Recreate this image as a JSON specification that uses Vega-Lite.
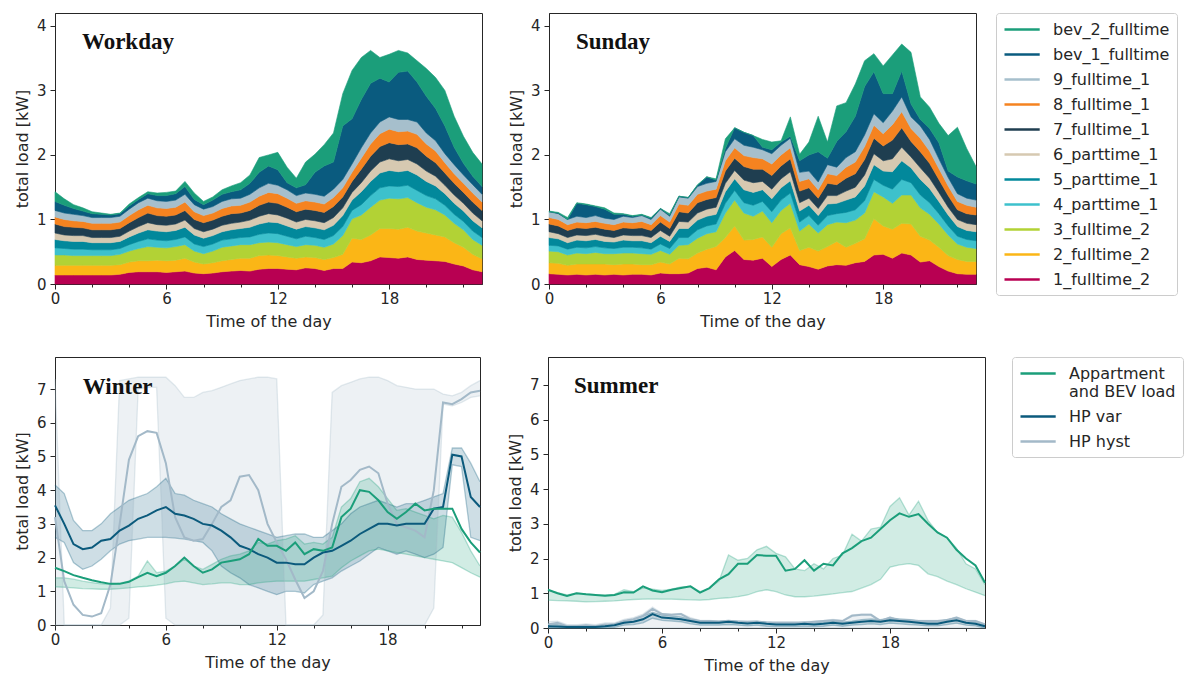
{
  "$schema": "https://vega.github.io/schema/vega-lite/v6.json",
  "padding": {"left": 13, "top": 12, "right": 5, "bottom": 5},
  "config": {
    "font": "DejaVu Sans",
    "view": {"stroke": "#262626", "strokeWidth": 1},
    "axis": {"grid": false, "labelFont": "DejaVu Sans", "labelFontSize": 15, "labelColor": "#262626", "titleFont": "DejaVu Sans", "titleFontSize": 16, "titleFontWeight": "normal", "titleColor": "#262626", "domainColor": "#262626", "tickColor": "#262626", "tickWidth": 1, "labelOverlap": false},
    "axisX": {"labelPadding": 2, "titlePadding": 7, "labelFlush": false, "tickCount": 23},
    "axisY": {"tickSize": 5, "labelPadding": 4, "titlePadding": 6},
    "legend": {"labelFont": "DejaVu Sans", "labelFontSize": 16, "labelColor": "#262626", "symbolType": "M-1,0H3.4", "symbolSize": 256, "symbolStrokeWidth": 2.5, "strokeColor": "#cccccc", "cornerRadius": 3, "padding": 7, "rowPadding": 7, "labelOffset": 31, "orient": "right"}
  },
  "datasets": {
    "workday": [
      {"t":0,"s":"1","v":0.14},{"t":0.5,"s":"1","v":0.14},{"t":1,"s":"1","v":0.14},{"t":1.5,"s":"1","v":0.14},{"t":2,"s":"1","v":0.14},{"t":2.5,"s":"1","v":0.14},{"t":3,"s":"1","v":0.14},{"t":3.5,"s":"1","v":0.15},{"t":4,"s":"1","v":0.18},{"t":4.5,"s":"1","v":0.19},{"t":5,"s":"1","v":0.19},{"t":5.5,"s":"1","v":0.19},{"t":6,"s":"1","v":0.18},{"t":6.5,"s":"1","v":0.19},{"t":7,"s":"1","v":0.2},{"t":7.5,"s":"1","v":0.17},{"t":8,"s":"1","v":0.16},{"t":8.5,"s":"1","v":0.17},{"t":9,"s":"1","v":0.19},{"t":9.5,"s":"1","v":0.2},{"t":10,"s":"1","v":0.21},{"t":10.5,"s":"1","v":0.2},{"t":11,"s":"1","v":0.23},{"t":11.5,"s":"1","v":0.24},{"t":12,"s":"1","v":0.24},{"t":12.5,"s":"1","v":0.23},{"t":13,"s":"1","v":0.22},{"t":13.5,"s":"1","v":0.25},{"t":14,"s":"1","v":0.24},{"t":14.5,"s":"1","v":0.21},{"t":15,"s":"1","v":0.24},{"t":15.5,"s":"1","v":0.24},{"t":16,"s":"1","v":0.34},{"t":16.5,"s":"1","v":0.33},{"t":17,"s":"1","v":0.36},{"t":17.5,"s":"1","v":0.42},{"t":18,"s":"1","v":0.41},{"t":18.5,"s":"1","v":0.4},{"t":19,"s":"1","v":0.42},{"t":19.5,"s":"1","v":0.38},{"t":20,"s":"1","v":0.37},{"t":20.5,"s":"1","v":0.36},{"t":21,"s":"1","v":0.35},{"t":21.5,"s":"1","v":0.31},{"t":22,"s":"1","v":0.28},{"t":22.5,"s":"1","v":0.22},{"t":23,"s":"1","v":0.19},
      {"t":0,"s":"2","v":0.15},{"t":0.5,"s":"2","v":0.15},{"t":1,"s":"2","v":0.15},{"t":1.5,"s":"2","v":0.15},{"t":2,"s":"2","v":0.15},{"t":2.5,"s":"2","v":0.15},{"t":3,"s":"2","v":0.15},{"t":3.5,"s":"2","v":0.15},{"t":4,"s":"2","v":0.16},{"t":4.5,"s":"2","v":0.17},{"t":5,"s":"2","v":0.17},{"t":5.5,"s":"2","v":0.18},{"t":6,"s":"2","v":0.18},{"t":6.5,"s":"2","v":0.18},{"t":7,"s":"2","v":0.2},{"t":7.5,"s":"2","v":0.17},{"t":8,"s":"2","v":0.15},{"t":8.5,"s":"2","v":0.16},{"t":9,"s":"2","v":0.17},{"t":9.5,"s":"2","v":0.18},{"t":10,"s":"2","v":0.19},{"t":10.5,"s":"2","v":0.2},{"t":11,"s":"2","v":0.21},{"t":11.5,"s":"2","v":0.21},{"t":12,"s":"2","v":0.2},{"t":12.5,"s":"2","v":0.19},{"t":13,"s":"2","v":0.18},{"t":13.5,"s":"2","v":0.17},{"t":14,"s":"2","v":0.17},{"t":14.5,"s":"2","v":0.17},{"t":15,"s":"2","v":0.17},{"t":15.5,"s":"2","v":0.22},{"t":16,"s":"2","v":0.37},{"t":16.5,"s":"2","v":0.36},{"t":17,"s":"2","v":0.4},{"t":17.5,"s":"2","v":0.44},{"t":18,"s":"2","v":0.45},{"t":18.5,"s":"2","v":0.45},{"t":19,"s":"2","v":0.46},{"t":19.5,"s":"2","v":0.44},{"t":20,"s":"2","v":0.42},{"t":20.5,"s":"2","v":0.4},{"t":21,"s":"2","v":0.38},{"t":21.5,"s":"2","v":0.33},{"t":22,"s":"2","v":0.29},{"t":22.5,"s":"2","v":0.24},{"t":23,"s":"2","v":0.2},
      {"t":0,"s":"3","v":0.16},{"t":0.5,"s":"3","v":0.16},{"t":1,"s":"3","v":0.15},{"t":1.5,"s":"3","v":0.15},{"t":2,"s":"3","v":0.15},{"t":2.5,"s":"3","v":0.15},{"t":3,"s":"3","v":0.15},{"t":3.5,"s":"3","v":0.16},{"t":4,"s":"3","v":0.17},{"t":4.5,"s":"3","v":0.19},{"t":5,"s":"3","v":0.22},{"t":5.5,"s":"3","v":0.2},{"t":6,"s":"3","v":0.2},{"t":6.5,"s":"3","v":0.21},{"t":7,"s":"3","v":0.21},{"t":7.5,"s":"3","v":0.17},{"t":8,"s":"3","v":0.16},{"t":8.5,"s":"3","v":0.18},{"t":9,"s":"3","v":0.21},{"t":9.5,"s":"3","v":0.21},{"t":10,"s":"3","v":0.21},{"t":10.5,"s":"3","v":0.21},{"t":11,"s":"3","v":0.2},{"t":11.5,"s":"3","v":0.2},{"t":12,"s":"3","v":0.2},{"t":12.5,"s":"3","v":0.19},{"t":13,"s":"3","v":0.18},{"t":13.5,"s":"3","v":0.19},{"t":14,"s":"3","v":0.19},{"t":14.5,"s":"3","v":0.19},{"t":15,"s":"3","v":0.21},{"t":15.5,"s":"3","v":0.29},{"t":16,"s":"3","v":0.3},{"t":16.5,"s":"3","v":0.38},{"t":17,"s":"3","v":0.43},{"t":17.5,"s":"3","v":0.44},{"t":18,"s":"3","v":0.47},{"t":18.5,"s":"3","v":0.47},{"t":19,"s":"3","v":0.46},{"t":19.5,"s":"3","v":0.44},{"t":20,"s":"3","v":0.4},{"t":20.5,"s":"3","v":0.39},{"t":21,"s":"3","v":0.34},{"t":21.5,"s":"3","v":0.3},{"t":22,"s":"3","v":0.27},{"t":22.5,"s":"3","v":0.23},{"t":23,"s":"3","v":0.21},
      {"t":0,"s":"4","v":0.11},{"t":0.5,"s":"4","v":0.1},{"t":1,"s":"4","v":0.1},{"t":1.5,"s":"4","v":0.1},{"t":2,"s":"4","v":0.09},{"t":2.5,"s":"4","v":0.09},{"t":3,"s":"4","v":0.09},{"t":3.5,"s":"4","v":0.09},{"t":4,"s":"4","v":0.1},{"t":4.5,"s":"4","v":0.11},{"t":5,"s":"4","v":0.12},{"t":5.5,"s":"4","v":0.11},{"t":6,"s":"4","v":0.11},{"t":6.5,"s":"4","v":0.11},{"t":7,"s":"4","v":0.12},{"t":7.5,"s":"4","v":0.11},{"t":8,"s":"4","v":0.11},{"t":8.5,"s":"4","v":0.11},{"t":9,"s":"4","v":0.11},{"t":9.5,"s":"4","v":0.11},{"t":10,"s":"4","v":0.11},{"t":10.5,"s":"4","v":0.12},{"t":11,"s":"4","v":0.13},{"t":11.5,"s":"4","v":0.14},{"t":12,"s":"4","v":0.14},{"t":12.5,"s":"4","v":0.13},{"t":13,"s":"4","v":0.12},{"t":13.5,"s":"4","v":0.13},{"t":14,"s":"4","v":0.12},{"t":14.5,"s":"4","v":0.12},{"t":15,"s":"4","v":0.13},{"t":15.5,"s":"4","v":0.14},{"t":16,"s":"4","v":0.13},{"t":16.5,"s":"4","v":0.16},{"t":17,"s":"4","v":0.18},{"t":17.5,"s":"4","v":0.19},{"t":18,"s":"4","v":0.19},{"t":18.5,"s":"4","v":0.19},{"t":19,"s":"4","v":0.19},{"t":19.5,"s":"4","v":0.19},{"t":20,"s":"4","v":0.18},{"t":20.5,"s":"4","v":0.17},{"t":21,"s":"4","v":0.15},{"t":21.5,"s":"4","v":0.14},{"t":22,"s":"4","v":0.13},{"t":22.5,"s":"4","v":0.13},{"t":23,"s":"4","v":0.12},
      {"t":0,"s":"5","v":0.13},{"t":0.5,"s":"5","v":0.12},{"t":1,"s":"5","v":0.12},{"t":1.5,"s":"5","v":0.12},{"t":2,"s":"5","v":0.11},{"t":2.5,"s":"5","v":0.11},{"t":3,"s":"5","v":0.11},{"t":3.5,"s":"5","v":0.11},{"t":4,"s":"5","v":0.12},{"t":4.5,"s":"5","v":0.13},{"t":5,"s":"5","v":0.14},{"t":5.5,"s":"5","v":0.14},{"t":6,"s":"5","v":0.14},{"t":6.5,"s":"5","v":0.14},{"t":7,"s":"5","v":0.15},{"t":7.5,"s":"5","v":0.14},{"t":8,"s":"5","v":0.13},{"t":8.5,"s":"5","v":0.13},{"t":9,"s":"5","v":0.13},{"t":9.5,"s":"5","v":0.14},{"t":10,"s":"5","v":0.14},{"t":10.5,"s":"5","v":0.15},{"t":11,"s":"5","v":0.16},{"t":11.5,"s":"5","v":0.17},{"t":12,"s":"5","v":0.17},{"t":12.5,"s":"5","v":0.16},{"t":13,"s":"5","v":0.15},{"t":13.5,"s":"5","v":0.15},{"t":14,"s":"5","v":0.15},{"t":14.5,"s":"5","v":0.15},{"t":15,"s":"5","v":0.16},{"t":15.5,"s":"5","v":0.17},{"t":16,"s":"5","v":0.16},{"t":16.5,"s":"5","v":0.2},{"t":17,"s":"5","v":0.22},{"t":17.5,"s":"5","v":0.23},{"t":18,"s":"5","v":0.24},{"t":18.5,"s":"5","v":0.23},{"t":19,"s":"5","v":0.23},{"t":19.5,"s":"5","v":0.24},{"t":20,"s":"5","v":0.22},{"t":20.5,"s":"5","v":0.2},{"t":21,"s":"5","v":0.18},{"t":21.5,"s":"5","v":0.17},{"t":22,"s":"5","v":0.16},{"t":22.5,"s":"5","v":0.16},{"t":23,"s":"5","v":0.15},
      {"t":0,"s":"6","v":0.1},{"t":0.5,"s":"6","v":0.09},{"t":1,"s":"6","v":0.09},{"t":1.5,"s":"6","v":0.09},{"t":2,"s":"6","v":0.08},{"t":2.5,"s":"6","v":0.08},{"t":3,"s":"6","v":0.08},{"t":3.5,"s":"6","v":0.08},{"t":4,"s":"6","v":0.09},{"t":4.5,"s":"6","v":0.1},{"t":5,"s":"6","v":0.11},{"t":5.5,"s":"6","v":0.1},{"t":6,"s":"6","v":0.1},{"t":6.5,"s":"6","v":0.1},{"t":7,"s":"6","v":0.11},{"t":7.5,"s":"6","v":0.1},{"t":8,"s":"6","v":0.1},{"t":8.5,"s":"6","v":0.1},{"t":9,"s":"6","v":0.1},{"t":9.5,"s":"6","v":0.1},{"t":10,"s":"6","v":0.1},{"t":10.5,"s":"6","v":0.11},{"t":11,"s":"6","v":0.12},{"t":11.5,"s":"6","v":0.13},{"t":12,"s":"6","v":0.12},{"t":12.5,"s":"6","v":0.12},{"t":13,"s":"6","v":0.11},{"t":13.5,"s":"6","v":0.11},{"t":14,"s":"6","v":0.11},{"t":14.5,"s":"6","v":0.11},{"t":15,"s":"6","v":0.12},{"t":15.5,"s":"6","v":0.12},{"t":16,"s":"6","v":0.12},{"t":16.5,"s":"6","v":0.14},{"t":17,"s":"6","v":0.16},{"t":17.5,"s":"6","v":0.17},{"t":18,"s":"6","v":0.18},{"t":18.5,"s":"6","v":0.17},{"t":19,"s":"6","v":0.17},{"t":19.5,"s":"6","v":0.17},{"t":20,"s":"6","v":0.16},{"t":20.5,"s":"6","v":0.15},{"t":21,"s":"6","v":0.13},{"t":21.5,"s":"6","v":0.13},{"t":22,"s":"6","v":0.12},{"t":22.5,"s":"6","v":0.12},{"t":23,"s":"6","v":0.11},
      {"t":0,"s":"7","v":0.14},{"t":0.5,"s":"7","v":0.13},{"t":1,"s":"7","v":0.13},{"t":1.5,"s":"7","v":0.12},{"t":2,"s":"7","v":0.12},{"t":2.5,"s":"7","v":0.12},{"t":3,"s":"7","v":0.12},{"t":3.5,"s":"7","v":0.12},{"t":4,"s":"7","v":0.13},{"t":4.5,"s":"7","v":0.14},{"t":5,"s":"7","v":0.15},{"t":5.5,"s":"7","v":0.14},{"t":6,"s":"7","v":0.14},{"t":6.5,"s":"7","v":0.14},{"t":7,"s":"7","v":0.15},{"t":7.5,"s":"7","v":0.14},{"t":8,"s":"7","v":0.14},{"t":8.5,"s":"7","v":0.14},{"t":9,"s":"7","v":0.14},{"t":9.5,"s":"7","v":0.15},{"t":10,"s":"7","v":0.14},{"t":10.5,"s":"7","v":0.15},{"t":11,"s":"7","v":0.17},{"t":11.5,"s":"7","v":0.18},{"t":12,"s":"7","v":0.18},{"t":12.5,"s":"7","v":0.17},{"t":13,"s":"7","v":0.16},{"t":13.5,"s":"7","v":0.16},{"t":14,"s":"7","v":0.16},{"t":14.5,"s":"7","v":0.16},{"t":15,"s":"7","v":0.17},{"t":15.5,"s":"7","v":0.17},{"t":16,"s":"7","v":0.17},{"t":16.5,"s":"7","v":0.21},{"t":17,"s":"7","v":0.23},{"t":17.5,"s":"7","v":0.24},{"t":18,"s":"7","v":0.25},{"t":18.5,"s":"7","v":0.25},{"t":19,"s":"7","v":0.24},{"t":19.5,"s":"7","v":0.25},{"t":20,"s":"7","v":0.23},{"t":20.5,"s":"7","v":0.21},{"t":21,"s":"7","v":0.19},{"t":21.5,"s":"7","v":0.18},{"t":22,"s":"7","v":0.17},{"t":22.5,"s":"7","v":0.17},{"t":23,"s":"7","v":0.16},
      {"t":0,"s":"8","v":0.11},{"t":0.5,"s":"8","v":0.11},{"t":1,"s":"8","v":0.1},{"t":1.5,"s":"8","v":0.1},{"t":2,"s":"8","v":0.1},{"t":2.5,"s":"8","v":0.1},{"t":3,"s":"8","v":0.1},{"t":3.5,"s":"8","v":0.1},{"t":4,"s":"8","v":0.11},{"t":4.5,"s":"8","v":0.12},{"t":5,"s":"8","v":0.12},{"t":5.5,"s":"8","v":0.12},{"t":6,"s":"8","v":0.12},{"t":6.5,"s":"8","v":0.12},{"t":7,"s":"8","v":0.13},{"t":7.5,"s":"8","v":0.12},{"t":8,"s":"8","v":0.11},{"t":8.5,"s":"8","v":0.11},{"t":9,"s":"8","v":0.12},{"t":9.5,"s":"8","v":0.12},{"t":10,"s":"8","v":0.12},{"t":10.5,"s":"8","v":0.13},{"t":11,"s":"8","v":0.14},{"t":11.5,"s":"8","v":0.15},{"t":12,"s":"8","v":0.15},{"t":12.5,"s":"8","v":0.14},{"t":13,"s":"8","v":0.13},{"t":13.5,"s":"8","v":0.13},{"t":14,"s":"8","v":0.13},{"t":14.5,"s":"8","v":0.13},{"t":15,"s":"8","v":0.14},{"t":15.5,"s":"8","v":0.14},{"t":16,"s":"8","v":0.14},{"t":16.5,"s":"8","v":0.17},{"t":17,"s":"8","v":0.19},{"t":17.5,"s":"8","v":0.2},{"t":18,"s":"8","v":0.21},{"t":18.5,"s":"8","v":0.2},{"t":19,"s":"8","v":0.2},{"t":19.5,"s":"8","v":0.21},{"t":20,"s":"8","v":0.19},{"t":20.5,"s":"8","v":0.18},{"t":21,"s":"8","v":0.16},{"t":21.5,"s":"8","v":0.15},{"t":22,"s":"8","v":0.14},{"t":22.5,"s":"8","v":0.14},{"t":23,"s":"8","v":0.13},
      {"t":0,"s":"9","v":0.1},{"t":0.5,"s":"9","v":0.1},{"t":1,"s":"9","v":0.1},{"t":1.5,"s":"9","v":0.09},{"t":2,"s":"9","v":0.09},{"t":2.5,"s":"9","v":0.09},{"t":3,"s":"9","v":0.09},{"t":3.5,"s":"9","v":0.09},{"t":4,"s":"9","v":0.1},{"t":4.5,"s":"9","v":0.11},{"t":5,"s":"9","v":0.11},{"t":5.5,"s":"9","v":0.11},{"t":6,"s":"9","v":0.11},{"t":6.5,"s":"9","v":0.11},{"t":7,"s":"9","v":0.12},{"t":7.5,"s":"9","v":0.11},{"t":8,"s":"9","v":0.1},{"t":8.5,"s":"9","v":0.1},{"t":9,"s":"9","v":0.11},{"t":9.5,"s":"9","v":0.11},{"t":10,"s":"9","v":0.11},{"t":10.5,"s":"9","v":0.12},{"t":11,"s":"9","v":0.13},{"t":11.5,"s":"9","v":0.14},{"t":12,"s":"9","v":0.13},{"t":12.5,"s":"9","v":0.13},{"t":13,"s":"9","v":0.12},{"t":13.5,"s":"9","v":0.12},{"t":14,"s":"9","v":0.12},{"t":14.5,"s":"9","v":0.12},{"t":15,"s":"9","v":0.13},{"t":15.5,"s":"9","v":0.13},{"t":16,"s":"9","v":0.13},{"t":16.5,"s":"9","v":0.16},{"t":17,"s":"9","v":0.17},{"t":17.5,"s":"9","v":0.18},{"t":18,"s":"9","v":0.19},{"t":18.5,"s":"9","v":0.19},{"t":19,"s":"9","v":0.18},{"t":19.5,"s":"9","v":0.19},{"t":20,"s":"9","v":0.17},{"t":20.5,"s":"9","v":0.16},{"t":21,"s":"9","v":0.14},{"t":21.5,"s":"9","v":0.14},{"t":22,"s":"9","v":0.13},{"t":22.5,"s":"9","v":0.13},{"t":23,"s":"9","v":0.12},
      {"t":0,"s":"b1","v":0.14},{"t":0.5,"s":"b1","v":0.12},{"t":1,"s":"b1","v":0.09},{"t":1.5,"s":"b1","v":0.07},{"t":2,"s":"b1","v":0.06},{"t":2.5,"s":"b1","v":0.05},{"t":3,"s":"b1","v":0.04},{"t":3.5,"s":"b1","v":0.04},{"t":4,"s":"b1","v":0.05},{"t":4.5,"s":"b1","v":0.05},{"t":5,"s":"b1","v":0.07},{"t":5.5,"s":"b1","v":0.08},{"t":6,"s":"b1","v":0.09},{"t":6.5,"s":"b1","v":0.1},{"t":7,"s":"b1","v":0.12},{"t":7.5,"s":"b1","v":0.08},{"t":8,"s":"b1","v":0.07},{"t":8.5,"s":"b1","v":0.1},{"t":9,"s":"b1","v":0.11},{"t":9.5,"s":"b1","v":0.11},{"t":10,"s":"b1","v":0.13},{"t":10.5,"s":"b1","v":0.17},{"t":11,"s":"b1","v":0.24},{"t":11.5,"s":"b1","v":0.27},{"t":12,"s":"b1","v":0.24},{"t":12.5,"s":"b1","v":0.11},{"t":13,"s":"b1","v":0.12},{"t":13.5,"s":"b1","v":0.13},{"t":14,"s":"b1","v":0.34},{"t":14.5,"s":"b1","v":0.47},{"t":15,"s":"b1","v":0.42},{"t":15.5,"s":"b1","v":0.83},{"t":16,"s":"b1","v":0.7},{"t":16.5,"s":"b1","v":0.75},{"t":17,"s":"b1","v":0.77},{"t":17.5,"s":"b1","v":0.68},{"t":18,"s":"b1","v":0.54},{"t":18.5,"s":"b1","v":0.73},{"t":19,"s":"b1","v":0.75},{"t":19.5,"s":"b1","v":0.62},{"t":20,"s":"b1","v":0.57},{"t":20.5,"s":"b1","v":0.5},{"t":21,"s":"b1","v":0.43},{"t":21.5,"s":"b1","v":0.27},{"t":22,"s":"b1","v":0.18},{"t":22.5,"s":"b1","v":0.13},{"t":23,"s":"b1","v":0.12},
      {"t":0,"s":"b2","v":0.15},{"t":0.5,"s":"b2","v":0.1},{"t":1,"s":"b2","v":0.06},{"t":1.5,"s":"b2","v":0.05},{"t":2,"s":"b2","v":0.03},{"t":2.5,"s":"b2","v":0.02},{"t":3,"s":"b2","v":0.01},{"t":3.5,"s":"b2","v":0.01},{"t":4,"s":"b2","v":0.03},{"t":4.5,"s":"b2","v":0.03},{"t":5,"s":"b2","v":0.03},{"t":5.5,"s":"b2","v":0.04},{"t":6,"s":"b2","v":0.05},{"t":6.5,"s":"b2","v":0.04},{"t":7,"s":"b2","v":0.08},{"t":7.5,"s":"b2","v":0.1},{"t":8,"s":"b2","v":0.05},{"t":8.5,"s":"b2","v":0.05},{"t":9,"s":"b2","v":0.07},{"t":9.5,"s":"b2","v":0.09},{"t":10,"s":"b2","v":0.11},{"t":10.5,"s":"b2","v":0.13},{"t":11,"s":"b2","v":0.23},{"t":11.5,"s":"b2","v":0.17},{"t":12,"s":"b2","v":0.27},{"t":12.5,"s":"b2","v":0.24},{"t":13,"s":"b2","v":0.15},{"t":13.5,"s":"b2","v":0.35},{"t":14,"s":"b2","v":0.28},{"t":14.5,"s":"b2","v":0.33},{"t":15,"s":"b2","v":0.45},{"t":15.5,"s":"b2","v":0.5},{"t":16,"s":"b2","v":0.75},{"t":16.5,"s":"b2","v":0.65},{"t":17,"s":"b2","v":0.51},{"t":17.5,"s":"b2","v":0.32},{"t":18,"s":"b2","v":0.43},{"t":18.5,"s":"b2","v":0.34},{"t":19,"s":"b2","v":0.28},{"t":19.5,"s":"b2","v":0.33},{"t":20,"s":"b2","v":0.43},{"t":20.5,"s":"b2","v":0.48},{"t":21,"s":"b2","v":0.55},{"t":21.5,"s":"b2","v":0.48},{"t":22,"s":"b2","v":0.42},{"t":22.5,"s":"b2","v":0.37},{"t":23,"s":"b2","v":0.35}
    ],
    "sunday": [
      {"t":0,"s":"1","v":0.16},{"t":0.5,"s":"1","v":0.15},{"t":1,"s":"1","v":0.14},{"t":1.5,"s":"1","v":0.15},{"t":2,"s":"1","v":0.14},{"t":2.5,"s":"1","v":0.15},{"t":3,"s":"1","v":0.14},{"t":3.5,"s":"1","v":0.15},{"t":4,"s":"1","v":0.14},{"t":4.5,"s":"1","v":0.15},{"t":5,"s":"1","v":0.15},{"t":5.5,"s":"1","v":0.14},{"t":6,"s":"1","v":0.17},{"t":6.5,"s":"1","v":0.16},{"t":7,"s":"1","v":0.16},{"t":7.5,"s":"1","v":0.17},{"t":8,"s":"1","v":0.24},{"t":8.5,"s":"1","v":0.26},{"t":9,"s":"1","v":0.22},{"t":9.5,"s":"1","v":0.42},{"t":10,"s":"1","v":0.52},{"t":10.5,"s":"1","v":0.38},{"t":11,"s":"1","v":0.37},{"t":11.5,"s":"1","v":0.4},{"t":12,"s":"1","v":0.27},{"t":12.5,"s":"1","v":0.38},{"t":13,"s":"1","v":0.45},{"t":13.5,"s":"1","v":0.3},{"t":14,"s":"1","v":0.27},{"t":14.5,"s":"1","v":0.23},{"t":15,"s":"1","v":0.28},{"t":15.5,"s":"1","v":0.3},{"t":16,"s":"1","v":0.29},{"t":16.5,"s":"1","v":0.33},{"t":17,"s":"1","v":0.35},{"t":17.5,"s":"1","v":0.45},{"t":18,"s":"1","v":0.46},{"t":18.5,"s":"1","v":0.4},{"t":19,"s":"1","v":0.48},{"t":19.5,"s":"1","v":0.45},{"t":20,"s":"1","v":0.34},{"t":20.5,"s":"1","v":0.36},{"t":21,"s":"1","v":0.27},{"t":21.5,"s":"1","v":0.2},{"t":22,"s":"1","v":0.16},{"t":22.5,"s":"1","v":0.15},{"t":23,"s":"1","v":0.15},
      {"t":0,"s":"2","v":0.17},{"t":0.5,"s":"2","v":0.17},{"t":1,"s":"2","v":0.15},{"t":1.5,"s":"2","v":0.16},{"t":2,"s":"2","v":0.17},{"t":2.5,"s":"2","v":0.16},{"t":3,"s":"2","v":0.17},{"t":3.5,"s":"2","v":0.15},{"t":4,"s":"2","v":0.17},{"t":4.5,"s":"2","v":0.16},{"t":5,"s":"2","v":0.15},{"t":5.5,"s":"2","v":0.16},{"t":6,"s":"2","v":0.17},{"t":6.5,"s":"2","v":0.15},{"t":7,"s":"2","v":0.24},{"t":7.5,"s":"2","v":0.22},{"t":8,"s":"2","v":0.24},{"t":8.5,"s":"2","v":0.28},{"t":9,"s":"2","v":0.36},{"t":9.5,"s":"2","v":0.3},{"t":10,"s":"2","v":0.38},{"t":10.5,"s":"2","v":0.3},{"t":11,"s":"2","v":0.32},{"t":11.5,"s":"2","v":0.33},{"t":12,"s":"2","v":0.3},{"t":12.5,"s":"2","v":0.4},{"t":13,"s":"2","v":0.42},{"t":13.5,"s":"2","v":0.22},{"t":14,"s":"2","v":0.3},{"t":14.5,"s":"2","v":0.28},{"t":15,"s":"2","v":0.3},{"t":15.5,"s":"2","v":0.36},{"t":16,"s":"2","v":0.28},{"t":16.5,"s":"2","v":0.3},{"t":17,"s":"2","v":0.35},{"t":17.5,"s":"2","v":0.56},{"t":18,"s":"2","v":0.44},{"t":18.5,"s":"2","v":0.45},{"t":19,"s":"2","v":0.46},{"t":19.5,"s":"2","v":0.48},{"t":20,"s":"2","v":0.4},{"t":20.5,"s":"2","v":0.32},{"t":21,"s":"2","v":0.3},{"t":21.5,"s":"2","v":0.24},{"t":22,"s":"2","v":0.22},{"t":22.5,"s":"2","v":0.2},{"t":23,"s":"2","v":0.2},
      {"t":0,"s":"3","v":0.18},{"t":0.5,"s":"3","v":0.18},{"t":1,"s":"3","v":0.16},{"t":1.5,"s":"3","v":0.17},{"t":2,"s":"3","v":0.16},{"t":2.5,"s":"3","v":0.18},{"t":3,"s":"3","v":0.16},{"t":3.5,"s":"3","v":0.17},{"t":4,"s":"3","v":0.17},{"t":4.5,"s":"3","v":0.17},{"t":5,"s":"3","v":0.17},{"t":5.5,"s":"3","v":0.16},{"t":6,"s":"3","v":0.18},{"t":6.5,"s":"3","v":0.15},{"t":7,"s":"3","v":0.2},{"t":7.5,"s":"3","v":0.22},{"t":8,"s":"3","v":0.23},{"t":8.5,"s":"3","v":0.24},{"t":9,"s":"3","v":0.23},{"t":9.5,"s":"3","v":0.38},{"t":10,"s":"3","v":0.4},{"t":10.5,"s":"3","v":0.42},{"t":11,"s":"3","v":0.36},{"t":11.5,"s":"3","v":0.4},{"t":12,"s":"3","v":0.38},{"t":12.5,"s":"3","v":0.36},{"t":13,"s":"3","v":0.38},{"t":13.5,"s":"3","v":0.3},{"t":14,"s":"3","v":0.36},{"t":14.5,"s":"3","v":0.28},{"t":15,"s":"3","v":0.34},{"t":15.5,"s":"3","v":0.3},{"t":16,"s":"3","v":0.38},{"t":16.5,"s":"3","v":0.36},{"t":17,"s":"3","v":0.4},{"t":17.5,"s":"3","v":0.42},{"t":18,"s":"3","v":0.45},{"t":18.5,"s":"3","v":0.4},{"t":19,"s":"3","v":0.44},{"t":19.5,"s":"3","v":0.45},{"t":20,"s":"3","v":0.44},{"t":20.5,"s":"3","v":0.4},{"t":21,"s":"3","v":0.36},{"t":21.5,"s":"3","v":0.32},{"t":22,"s":"3","v":0.24},{"t":22.5,"s":"3","v":0.22},{"t":23,"s":"3","v":0.2},
      {"t":0,"s":"4","v":0.09},{"t":0.5,"s":"4","v":0.09},{"t":1,"s":"4","v":0.09},{"t":1.5,"s":"4","v":0.09},{"t":2,"s":"4","v":0.09},{"t":2.5,"s":"4","v":0.09},{"t":3,"s":"4","v":0.09},{"t":3.5,"s":"4","v":0.08},{"t":4,"s":"4","v":0.09},{"t":4.5,"s":"4","v":0.09},{"t":5,"s":"4","v":0.09},{"t":5.5,"s":"4","v":0.08},{"t":6,"s":"4","v":0.1},{"t":6.5,"s":"4","v":0.09},{"t":7,"s":"4","v":0.12},{"t":7.5,"s":"4","v":0.11},{"t":8,"s":"4","v":0.13},{"t":8.5,"s":"4","v":0.12},{"t":9,"s":"4","v":0.12},{"t":9.5,"s":"4","v":0.15},{"t":10,"s":"4","v":0.15},{"t":10.5,"s":"4","v":0.16},{"t":11,"s":"4","v":0.17},{"t":11.5,"s":"4","v":0.15},{"t":12,"s":"4","v":0.17},{"t":12.5,"s":"4","v":0.16},{"t":13,"s":"4","v":0.16},{"t":13.5,"s":"4","v":0.14},{"t":14,"s":"4","v":0.13},{"t":14.5,"s":"4","v":0.12},{"t":15,"s":"4","v":0.14},{"t":15.5,"s":"4","v":0.13},{"t":16,"s":"4","v":0.16},{"t":16.5,"s":"4","v":0.16},{"t":17,"s":"4","v":0.19},{"t":17.5,"s":"4","v":0.19},{"t":18,"s":"4","v":0.18},{"t":18.5,"s":"4","v":0.22},{"t":19,"s":"4","v":0.24},{"t":19.5,"s":"4","v":0.19},{"t":20,"s":"4","v":0.2},{"t":20.5,"s":"4","v":0.18},{"t":21,"s":"4","v":0.16},{"t":21.5,"s":"4","v":0.14},{"t":22,"s":"4","v":0.12},{"t":22.5,"s":"4","v":0.12},{"t":23,"s":"4","v":0.12},
      {"t":0,"s":"5","v":0.12},{"t":0.5,"s":"5","v":0.11},{"t":1,"s":"5","v":0.1},{"t":1.5,"s":"5","v":0.11},{"t":2,"s":"5","v":0.11},{"t":2.5,"s":"5","v":0.11},{"t":3,"s":"5","v":0.1},{"t":3.5,"s":"5","v":0.1},{"t":4,"s":"5","v":0.11},{"t":4.5,"s":"5","v":0.1},{"t":5,"s":"5","v":0.11},{"t":5.5,"s":"5","v":0.1},{"t":6,"s":"5","v":0.12},{"t":6.5,"s":"5","v":0.11},{"t":7,"s":"5","v":0.14},{"t":7.5,"s":"5","v":0.14},{"t":8,"s":"5","v":0.15},{"t":8.5,"s":"5","v":0.15},{"t":9,"s":"5","v":0.15},{"t":9.5,"s":"5","v":0.18},{"t":10,"s":"5","v":0.18},{"t":10.5,"s":"5","v":0.2},{"t":11,"s":"5","v":0.2},{"t":11.5,"s":"5","v":0.18},{"t":12,"s":"5","v":0.2},{"t":12.5,"s":"5","v":0.19},{"t":13,"s":"5","v":0.19},{"t":13.5,"s":"5","v":0.17},{"t":14,"s":"5","v":0.16},{"t":14.5,"s":"5","v":0.15},{"t":15,"s":"5","v":0.18},{"t":15.5,"s":"5","v":0.16},{"t":16,"s":"5","v":0.19},{"t":16.5,"s":"5","v":0.2},{"t":17,"s":"5","v":0.23},{"t":17.5,"s":"5","v":0.23},{"t":18,"s":"5","v":0.22},{"t":18.5,"s":"5","v":0.27},{"t":19,"s":"5","v":0.29},{"t":19.5,"s":"5","v":0.23},{"t":20,"s":"5","v":0.24},{"t":20.5,"s":"5","v":0.22},{"t":21,"s":"5","v":0.19},{"t":21.5,"s":"5","v":0.17},{"t":22,"s":"5","v":0.15},{"t":22.5,"s":"5","v":0.14},{"t":23,"s":"5","v":0.14},
      {"t":0,"s":"6","v":0.09},{"t":0.5,"s":"6","v":0.08},{"t":1,"s":"6","v":0.08},{"t":1.5,"s":"6","v":0.08},{"t":2,"s":"6","v":0.08},{"t":2.5,"s":"6","v":0.08},{"t":3,"s":"6","v":0.08},{"t":3.5,"s":"6","v":0.07},{"t":4,"s":"6","v":0.08},{"t":4.5,"s":"6","v":0.08},{"t":5,"s":"6","v":0.08},{"t":5.5,"s":"6","v":0.08},{"t":6,"s":"6","v":0.09},{"t":6.5,"s":"6","v":0.08},{"t":7,"s":"6","v":0.11},{"t":7.5,"s":"6","v":0.1},{"t":8,"s":"6","v":0.11},{"t":8.5,"s":"6","v":0.11},{"t":9,"s":"6","v":0.11},{"t":9.5,"s":"6","v":0.13},{"t":10,"s":"6","v":0.13},{"t":10.5,"s":"6","v":0.15},{"t":11,"s":"6","v":0.15},{"t":11.5,"s":"6","v":0.13},{"t":12,"s":"6","v":0.15},{"t":12.5,"s":"6","v":0.14},{"t":13,"s":"6","v":0.14},{"t":13.5,"s":"6","v":0.13},{"t":14,"s":"6","v":0.11},{"t":14.5,"s":"6","v":0.11},{"t":15,"s":"6","v":0.13},{"t":15.5,"s":"6","v":0.12},{"t":16,"s":"6","v":0.14},{"t":16.5,"s":"6","v":0.15},{"t":17,"s":"6","v":0.17},{"t":17.5,"s":"6","v":0.17},{"t":18,"s":"6","v":0.16},{"t":18.5,"s":"6","v":0.2},{"t":19,"s":"6","v":0.21},{"t":19.5,"s":"6","v":0.17},{"t":20,"s":"6","v":0.18},{"t":20.5,"s":"6","v":0.16},{"t":21,"s":"6","v":0.14},{"t":21.5,"s":"6","v":0.12},{"t":22,"s":"6","v":0.11},{"t":22.5,"s":"6","v":0.11},{"t":23,"s":"6","v":0.11},
      {"t":0,"s":"7","v":0.12},{"t":0.5,"s":"7","v":0.12},{"t":1,"s":"7","v":0.11},{"t":1.5,"s":"7","v":0.11},{"t":2,"s":"7","v":0.11},{"t":2.5,"s":"7","v":0.11},{"t":3,"s":"7","v":0.11},{"t":3.5,"s":"7","v":0.11},{"t":4,"s":"7","v":0.11},{"t":4.5,"s":"7","v":0.11},{"t":5,"s":"7","v":0.12},{"t":5.5,"s":"7","v":0.11},{"t":6,"s":"7","v":0.13},{"t":6.5,"s":"7","v":0.12},{"t":7,"s":"7","v":0.15},{"t":7.5,"s":"7","v":0.14},{"t":8,"s":"7","v":0.16},{"t":8.5,"s":"7","v":0.15},{"t":9,"s":"7","v":0.15},{"t":9.5,"s":"7","v":0.19},{"t":10,"s":"7","v":0.19},{"t":10.5,"s":"7","v":0.21},{"t":11,"s":"7","v":0.21},{"t":11.5,"s":"7","v":0.19},{"t":12,"s":"7","v":0.21},{"t":12.5,"s":"7","v":0.2},{"t":13,"s":"7","v":0.2},{"t":13.5,"s":"7","v":0.18},{"t":14,"s":"7","v":0.16},{"t":14.5,"s":"7","v":0.16},{"t":15,"s":"7","v":0.19},{"t":15.5,"s":"7","v":0.17},{"t":16,"s":"7","v":0.2},{"t":16.5,"s":"7","v":0.21},{"t":17,"s":"7","v":0.24},{"t":17.5,"s":"7","v":0.24},{"t":18,"s":"7","v":0.23},{"t":18.5,"s":"7","v":0.29},{"t":19,"s":"7","v":0.3},{"t":19.5,"s":"7","v":0.24},{"t":20,"s":"7","v":0.25},{"t":20.5,"s":"7","v":0.23},{"t":21,"s":"7","v":0.2},{"t":21.5,"s":"7","v":0.18},{"t":22,"s":"7","v":0.15},{"t":22.5,"s":"7","v":0.15},{"t":23,"s":"7","v":0.15},
      {"t":0,"s":"8","v":0.1},{"t":0.5,"s":"8","v":0.1},{"t":1,"s":"8","v":0.09},{"t":1.5,"s":"8","v":0.09},{"t":2,"s":"8","v":0.09},{"t":2.5,"s":"8","v":0.09},{"t":3,"s":"8","v":0.09},{"t":3.5,"s":"8","v":0.09},{"t":4,"s":"8","v":0.09},{"t":4.5,"s":"8","v":0.09},{"t":5,"s":"8","v":0.1},{"t":5.5,"s":"8","v":0.09},{"t":6,"s":"8","v":0.1},{"t":6.5,"s":"8","v":0.1},{"t":7,"s":"8","v":0.12},{"t":7.5,"s":"8","v":0.12},{"t":8,"s":"8","v":0.13},{"t":8.5,"s":"8","v":0.13},{"t":9,"s":"8","v":0.13},{"t":9.5,"s":"8","v":0.16},{"t":10,"s":"8","v":0.16},{"t":10.5,"s":"8","v":0.17},{"t":11,"s":"8","v":0.18},{"t":11.5,"s":"8","v":0.16},{"t":12,"s":"8","v":0.18},{"t":12.5,"s":"8","v":0.17},{"t":13,"s":"8","v":0.17},{"t":13.5,"s":"8","v":0.15},{"t":14,"s":"8","v":0.14},{"t":14.5,"s":"8","v":0.13},{"t":15,"s":"8","v":0.15},{"t":15.5,"s":"8","v":0.14},{"t":16,"s":"8","v":0.17},{"t":16.5,"s":"8","v":0.18},{"t":17,"s":"8","v":0.2},{"t":17.5,"s":"8","v":0.2},{"t":18,"s":"8","v":0.19},{"t":18.5,"s":"8","v":0.24},{"t":19,"s":"8","v":0.25},{"t":19.5,"s":"8","v":0.2},{"t":20,"s":"8","v":0.21},{"t":20.5,"s":"8","v":0.19},{"t":21,"s":"8","v":0.17},{"t":21.5,"s":"8","v":0.15},{"t":22,"s":"8","v":0.13},{"t":22.5,"s":"8","v":0.13},{"t":23,"s":"8","v":0.12},
      {"t":0,"s":"9","v":0.09},{"t":0.5,"s":"9","v":0.09},{"t":1,"s":"9","v":0.08},{"t":1.5,"s":"9","v":0.09},{"t":2,"s":"9","v":0.08},{"t":2.5,"s":"9","v":0.09},{"t":3,"s":"9","v":0.08},{"t":3.5,"s":"9","v":0.08},{"t":4,"s":"9","v":0.09},{"t":4.5,"s":"9","v":0.08},{"t":5,"s":"9","v":0.09},{"t":5.5,"s":"9","v":0.08},{"t":6,"s":"9","v":0.1},{"t":6.5,"s":"9","v":0.09},{"t":7,"s":"9","v":0.11},{"t":7.5,"s":"9","v":0.11},{"t":8,"s":"9","v":0.12},{"t":8.5,"s":"9","v":0.12},{"t":9,"s":"9","v":0.12},{"t":9.5,"s":"9","v":0.14},{"t":10,"s":"9","v":0.14},{"t":10.5,"s":"9","v":0.16},{"t":11,"s":"9","v":0.16},{"t":11.5,"s":"9","v":0.14},{"t":12,"s":"9","v":0.16},{"t":12.5,"s":"9","v":0.15},{"t":13,"s":"9","v":0.15},{"t":13.5,"s":"9","v":0.14},{"t":14,"s":"9","v":0.12},{"t":14.5,"s":"9","v":0.12},{"t":15,"s":"9","v":0.14},{"t":15.5,"s":"9","v":0.13},{"t":16,"s":"9","v":0.15},{"t":16.5,"s":"9","v":0.16},{"t":17,"s":"9","v":0.18},{"t":17.5,"s":"9","v":0.18},{"t":18,"s":"9","v":0.17},{"t":18.5,"s":"9","v":0.21},{"t":19,"s":"9","v":0.23},{"t":19.5,"s":"9","v":0.18},{"t":20,"s":"9","v":0.19},{"t":20.5,"s":"9","v":0.18},{"t":21,"s":"9","v":0.15},{"t":21.5,"s":"9","v":0.13},{"t":22,"s":"9","v":0.12},{"t":22.5,"s":"9","v":0.11},{"t":23,"s":"9","v":0.11},
      {"t":0,"s":"b1","v":0},{"t":0.5,"s":"b1","v":0.01},{"t":1,"s":"b1","v":0},{"t":1.5,"s":"b1","v":0.2},{"t":2,"s":"b1","v":0.2},{"t":2.5,"s":"b1","v":0.14},{"t":3,"s":"b1","v":0.14},{"t":3.5,"s":"b1","v":0.08},{"t":4,"s":"b1","v":0.03},{"t":4.5,"s":"b1","v":0.02},{"t":5,"s":"b1","v":0.01},{"t":5.5,"s":"b1","v":0.02},{"t":6,"s":"b1","v":0.01},{"t":6.5,"s":"b1","v":0.02},{"t":7,"s":"b1","v":0.01},{"t":7.5,"s":"b1","v":0.01},{"t":8,"s":"b1","v":0.02},{"t":8.5,"s":"b1","v":0.1},{"t":9,"s":"b1","v":0.02},{"t":9.5,"s":"b1","v":0.05},{"t":10,"s":"b1","v":0.17},{"t":10.5,"s":"b1","v":0.2},{"t":11,"s":"b1","v":0.18},{"t":11.5,"s":"b1","v":0.04},{"t":12,"s":"b1","v":0.06},{"t":12.5,"s":"b1","v":0.05},{"t":13,"s":"b1","v":0.03},{"t":13.5,"s":"b1","v":0.18},{"t":14,"s":"b1","v":0.25},{"t":14.5,"s":"b1","v":0.47},{"t":15,"s":"b1","v":0.1},{"t":15.5,"s":"b1","v":0.4},{"t":16,"s":"b1","v":0.4},{"t":16.5,"s":"b1","v":0.55},{"t":17,"s":"b1","v":0.75},{"t":17.5,"s":"b1","v":0.65},{"t":18,"s":"b1","v":0.45},{"t":18.5,"s":"b1","v":0.27},{"t":19,"s":"b1","v":0.4},{"t":19.5,"s":"b1","v":0.2},{"t":20,"s":"b1","v":0.1},{"t":20.5,"s":"b1","v":0.17},{"t":21,"s":"b1","v":0.25},{"t":21.5,"s":"b1","v":0.1},{"t":22,"s":"b1","v":0.26},{"t":22.5,"s":"b1","v":0.27},{"t":23,"s":"b1","v":0.25},
      {"t":0,"s":"b2","v":0.01},{"t":0.5,"s":"b2","v":0.01},{"t":1,"s":"b2","v":0.03},{"t":1.5,"s":"b2","v":0.01},{"t":2,"s":"b2","v":0.01},{"t":2.5,"s":"b2","v":0.01},{"t":3,"s":"b2","v":0.02},{"t":3.5,"s":"b2","v":0.02},{"t":4,"s":"b2","v":0.01},{"t":4.5,"s":"b2","v":0.01},{"t":5,"s":"b2","v":0.01},{"t":5.5,"s":"b2","v":0.01},{"t":6,"s":"b2","v":0},{"t":6.5,"s":"b2","v":0.02},{"t":7,"s":"b2","v":0},{"t":7.5,"s":"b2","v":0},{"t":8,"s":"b2","v":0.01},{"t":8.5,"s":"b2","v":0},{"t":9,"s":"b2","v":0.02},{"t":9.5,"s":"b2","v":0.15},{"t":10,"s":"b2","v":0},{"t":10.5,"s":"b2","v":0},{"t":11,"s":"b2","v":0},{"t":11.5,"s":"b2","v":0.12},{"t":12,"s":"b2","v":0.12},{"t":12.5,"s":"b2","v":0.02},{"t":13,"s":"b2","v":0.3},{"t":13.5,"s":"b2","v":0.1},{"t":14,"s":"b2","v":0.2},{"t":14.5,"s":"b2","v":0.55},{"t":15,"s":"b2","v":0.25},{"t":15.5,"s":"b2","v":0.55},{"t":16,"s":"b2","v":0.45},{"t":16.5,"s":"b2","v":0.5},{"t":17,"s":"b2","v":0.4},{"t":17.5,"s":"b2","v":0.28},{"t":18,"s":"b2","v":0.43},{"t":18.5,"s":"b2","v":0.6},{"t":19,"s":"b2","v":0.42},{"t":19.5,"s":"b2","v":0.8},{"t":20,"s":"b2","v":0.35},{"t":20.5,"s":"b2","v":0.33},{"t":21,"s":"b2","v":0.3},{"t":21.5,"s":"b2","v":0.55},{"t":22,"s":"b2","v":0.77},{"t":22.5,"s":"b2","v":0.5},{"t":23,"s":"b2","v":0.27}
    ],
    "winter": [
      {"t":0,"s":"hyst","m":3.2,"lo":0,"hi":7.3},{"t":0.5,"s":"hyst","m":1.3,"lo":0,"hi":0},{"t":1,"s":"hyst","m":0.6,"lo":0,"hi":0},{"t":1.5,"s":"hyst","m":0.3,"lo":0,"hi":0},{"t":2,"s":"hyst","m":0.25,"lo":0,"hi":0},{"t":2.5,"s":"hyst","m":0.35,"lo":0,"hi":0},{"t":3,"s":"hyst","m":1.2,"lo":0,"hi":0.5},{"t":3.5,"s":"hyst","m":3.0,"lo":0,"hi":7.25},{"t":4,"s":"hyst","m":4.9,"lo":0.2,"hi":7.3},{"t":4.5,"s":"hyst","m":5.6,"lo":7.0,"hi":7.35},{"t":5,"s":"hyst","m":5.75,"lo":7.05,"hi":7.35},{"t":5.5,"s":"hyst","m":5.7,"lo":7.05,"hi":7.35},{"t":6,"s":"hyst","m":4.8,"lo":0.2,"hi":7.35},{"t":6.5,"s":"hyst","m":3.2,"lo":0,"hi":7.1},{"t":7,"s":"hyst","m":2.6,"lo":0,"hi":6.75},{"t":7.5,"s":"hyst","m":2.5,"lo":0,"hi":6.75},{"t":8,"s":"hyst","m":2.55,"lo":0,"hi":6.9},{"t":8.5,"s":"hyst","m":3.0,"lo":0,"hi":6.95},{"t":9,"s":"hyst","m":3.5,"lo":0,"hi":7.05},{"t":9.5,"s":"hyst","m":3.7,"lo":0,"hi":7.15},{"t":10,"s":"hyst","m":4.4,"lo":0,"hi":7.25},{"t":10.5,"s":"hyst","m":4.45,"lo":0,"hi":7.3},{"t":11,"s":"hyst","m":4.0,"lo":0,"hi":7.35},{"t":11.5,"s":"hyst","m":3.0,"lo":0,"hi":7.35},{"t":12,"s":"hyst","m":2.45,"lo":0,"hi":7.3},{"t":12.5,"s":"hyst","m":1.95,"lo":0,"hi":0},{"t":13,"s":"hyst","m":1.35,"lo":0,"hi":0},{"t":13.5,"s":"hyst","m":0.8,"lo":0,"hi":0},{"t":14,"s":"hyst","m":1.0,"lo":0,"hi":0},{"t":14.5,"s":"hyst","m":1.6,"lo":0,"hi":0.3},{"t":15,"s":"hyst","m":3.0,"lo":0,"hi":6.9},{"t":15.5,"s":"hyst","m":4.1,"lo":0,"hi":7.1},{"t":16,"s":"hyst","m":4.3,"lo":0,"hi":7.2},{"t":16.5,"s":"hyst","m":4.6,"lo":0,"hi":7.3},{"t":17,"s":"hyst","m":4.7,"lo":0,"hi":7.35},{"t":17.5,"s":"hyst","m":4.5,"lo":0,"hi":7.35},{"t":18,"s":"hyst","m":3.6,"lo":0,"hi":7.25},{"t":18.5,"s":"hyst","m":3.0,"lo":0,"hi":7.1},{"t":19,"s":"hyst","m":2.9,"lo":0,"hi":7.05},{"t":19.5,"s":"hyst","m":2.8,"lo":0,"hi":7.0},{"t":20,"s":"hyst","m":2.6,"lo":0,"hi":7.0},{"t":20.5,"s":"hyst","m":4.0,"lo":0.5,"hi":7.0},{"t":21,"s":"hyst","m":6.6,"lo":6.55,"hi":6.85},{"t":21.5,"s":"hyst","m":6.55,"lo":6.5,"hi":6.8},{"t":22,"s":"hyst","m":6.7,"lo":6.6,"hi":6.9},{"t":22.5,"s":"hyst","m":6.9,"lo":6.75,"hi":7.1},{"t":23,"s":"hyst","m":6.95,"lo":6.8,"hi":7.25},
      {"t":0,"s":"var","m":3.55,"lo":2.6,"hi":4.15},{"t":0.5,"s":"var","m":3.0,"lo":2.45,"hi":3.9},{"t":1,"s":"var","m":2.4,"lo":1.85,"hi":3.1},{"t":1.5,"s":"var","m":2.25,"lo":1.65,"hi":2.8},{"t":2,"s":"var","m":2.3,"lo":1.75,"hi":2.8},{"t":2.5,"s":"var","m":2.5,"lo":1.95,"hi":3.0},{"t":3,"s":"var","m":2.55,"lo":2.2,"hi":3.3},{"t":3.5,"s":"var","m":2.8,"lo":2.4,"hi":3.5},{"t":4,"s":"var","m":2.95,"lo":2.5,"hi":3.7},{"t":4.5,"s":"var","m":3.15,"lo":2.55,"hi":3.8},{"t":5,"s":"var","m":3.25,"lo":2.6,"hi":3.9},{"t":5.5,"s":"var","m":3.4,"lo":2.6,"hi":4.1},{"t":6,"s":"var","m":3.5,"lo":2.6,"hi":4.35},{"t":6.5,"s":"var","m":3.3,"lo":2.58,"hi":3.9},{"t":7,"s":"var","m":3.25,"lo":2.55,"hi":3.85},{"t":7.5,"s":"var","m":3.15,"lo":2.5,"hi":3.7},{"t":8,"s":"var","m":3.0,"lo":2.45,"hi":3.6},{"t":8.5,"s":"var","m":2.95,"lo":2.2,"hi":3.5},{"t":9,"s":"var","m":2.8,"lo":1.75,"hi":3.3},{"t":9.5,"s":"var","m":2.6,"lo":1.55,"hi":3.15},{"t":10,"s":"var","m":2.35,"lo":1.4,"hi":3.0},{"t":10.5,"s":"var","m":2.25,"lo":1.2,"hi":2.9},{"t":11,"s":"var","m":2.1,"lo":1.1,"hi":2.8},{"t":11.5,"s":"var","m":2.0,"lo":1.0,"hi":2.7},{"t":12,"s":"var","m":1.85,"lo":0.9,"hi":2.6},{"t":12.5,"s":"var","m":1.85,"lo":1.0,"hi":2.65},{"t":13,"s":"var","m":1.8,"lo":1.0,"hi":2.7},{"t":13.5,"s":"var","m":1.8,"lo":0.95,"hi":2.7},{"t":14,"s":"var","m":2.0,"lo":1.2,"hi":2.6},{"t":14.5,"s":"var","m":2.15,"lo":1.3,"hi":2.6},{"t":15,"s":"var","m":2.2,"lo":1.4,"hi":2.8},{"t":15.5,"s":"var","m":2.35,"lo":1.6,"hi":3.0},{"t":16,"s":"var","m":2.5,"lo":1.75,"hi":3.3},{"t":16.5,"s":"var","m":2.7,"lo":1.9,"hi":3.5},{"t":17,"s":"var","m":2.85,"lo":2.1,"hi":3.6},{"t":17.5,"s":"var","m":3.0,"lo":2.3,"hi":3.7},{"t":18,"s":"var","m":3.0,"lo":2.2,"hi":3.6},{"t":18.5,"s":"var","m":2.95,"lo":2.1,"hi":3.5},{"t":19,"s":"var","m":3.0,"lo":2.2,"hi":3.6},{"t":19.5,"s":"var","m":3.0,"lo":2.1,"hi":3.6},{"t":20,"s":"var","m":3.0,"lo":2.0,"hi":3.7},{"t":20.5,"s":"var","m":3.45,"lo":2.1,"hi":3.8},{"t":21,"s":"var","m":3.5,"lo":2.3,"hi":3.9},{"t":21.5,"s":"var","m":5.05,"lo":4.75,"hi":5.25},{"t":22,"s":"var","m":5.0,"lo":4.7,"hi":5.25},{"t":22.5,"s":"var","m":3.8,"lo":2.6,"hi":4.8},{"t":23,"s":"var","m":3.5,"lo":2.5,"hi":4.25},
      {"t":0,"s":"app","m":1.7,"lo":1.13,"hi":1.4},{"t":0.5,"s":"app","m":1.6,"lo":1.12,"hi":1.4},{"t":1,"s":"app","m":1.48,"lo":1.1,"hi":1.36},{"t":1.5,"s":"app","m":1.4,"lo":1.08,"hi":1.3},{"t":2,"s":"app","m":1.33,"lo":1.07,"hi":1.26},{"t":2.5,"s":"app","m":1.27,"lo":1.06,"hi":1.22},{"t":3,"s":"app","m":1.22,"lo":1.06,"hi":1.2},{"t":3.5,"s":"app","m":1.22,"lo":1.08,"hi":1.24},{"t":4,"s":"app","m":1.28,"lo":1.1,"hi":1.3},{"t":4.5,"s":"app","m":1.42,"lo":1.13,"hi":1.45},{"t":5,"s":"app","m":1.55,"lo":1.15,"hi":1.9},{"t":5.5,"s":"app","m":1.45,"lo":1.18,"hi":1.55},{"t":6,"s":"app","m":1.55,"lo":1.22,"hi":1.6},{"t":6.5,"s":"app","m":1.75,"lo":1.28,"hi":1.75},{"t":7,"s":"app","m":2.0,"lo":1.3,"hi":1.95},{"t":7.5,"s":"app","m":1.75,"lo":1.25,"hi":1.75},{"t":8,"s":"app","m":1.55,"lo":1.2,"hi":1.65},{"t":8.5,"s":"app","m":1.65,"lo":1.22,"hi":1.8},{"t":9,"s":"app","m":1.85,"lo":1.25,"hi":1.95},{"t":9.5,"s":"app","m":1.9,"lo":1.25,"hi":2.05},{"t":10,"s":"app","m":1.95,"lo":1.2,"hi":2.1},{"t":10.5,"s":"app","m":2.1,"lo":1.2,"hi":2.2},{"t":11,"s":"app","m":2.55,"lo":1.25,"hi":2.45},{"t":11.5,"s":"app","m":2.35,"lo":1.28,"hi":2.4},{"t":12,"s":"app","m":2.35,"lo":1.3,"hi":2.5},{"t":12.5,"s":"app","m":2.2,"lo":1.3,"hi":2.55},{"t":13,"s":"app","m":2.45,"lo":1.3,"hi":2.65},{"t":13.5,"s":"app","m":2.1,"lo":1.3,"hi":2.4},{"t":14,"s":"app","m":2.25,"lo":1.35,"hi":2.45},{"t":14.5,"s":"app","m":2.2,"lo":1.4,"hi":2.4},{"t":15,"s":"app","m":2.3,"lo":1.45,"hi":2.6},{"t":15.5,"s":"app","m":3.2,"lo":1.7,"hi":3.5},{"t":16,"s":"app","m":3.45,"lo":1.9,"hi":3.75},{"t":16.5,"s":"app","m":4.0,"lo":2.05,"hi":4.25},{"t":17,"s":"app","m":3.95,"lo":2.2,"hi":4.35},{"t":17.5,"s":"app","m":3.7,"lo":2.25,"hi":4.1},{"t":18,"s":"app","m":3.35,"lo":2.2,"hi":3.75},{"t":18.5,"s":"app","m":3.15,"lo":2.15,"hi":3.4},{"t":19,"s":"app","m":3.35,"lo":2.1,"hi":3.45},{"t":19.5,"s":"app","m":3.6,"lo":2.05,"hi":3.35},{"t":20,"s":"app","m":3.4,"lo":2.0,"hi":3.25},{"t":20.5,"s":"app","m":3.45,"lo":1.95,"hi":3.15},{"t":21,"s":"app","m":3.45,"lo":1.9,"hi":3.25},{"t":21.5,"s":"app","m":3.45,"lo":1.85,"hi":3.2},{"t":22,"s":"app","m":2.85,"lo":1.7,"hi":2.75},{"t":22.5,"s":"app","m":2.45,"lo":1.55,"hi":2.2},{"t":23,"s":"app","m":2.15,"lo":1.42,"hi":1.75}
    ],
    "summer": [
      {"t":0,"s":"hyst","m":0.1,"lo":0,"hi":0.18},{"t":0.5,"s":"hyst","m":0.15,"lo":0,"hi":0.2},{"t":1,"s":"hyst","m":0.05,"lo":0,"hi":0.1},{"t":1.5,"s":"hyst","m":0.05,"lo":0,"hi":0.1},{"t":2,"s":"hyst","m":0.08,"lo":0,"hi":0.12},{"t":2.5,"s":"hyst","m":0.05,"lo":0,"hi":0.1},{"t":3,"s":"hyst","m":0.1,"lo":0,"hi":0.15},{"t":3.5,"s":"hyst","m":0.1,"lo":0,"hi":0.15},{"t":4,"s":"hyst","m":0.2,"lo":0,"hi":0.25},{"t":4.5,"s":"hyst","m":0.25,"lo":0,"hi":0.3},{"t":5,"s":"hyst","m":0.35,"lo":0,"hi":0.4},{"t":5.5,"s":"hyst","m":0.55,"lo":0,"hi":0.6},{"t":6,"s":"hyst","m":0.4,"lo":0,"hi":0.42},{"t":6.5,"s":"hyst","m":0.38,"lo":0,"hi":0.4},{"t":7,"s":"hyst","m":0.4,"lo":0,"hi":0.42},{"t":7.5,"s":"hyst","m":0.25,"lo":0,"hi":0.3},{"t":8,"s":"hyst","m":0.2,"lo":0,"hi":0.22},{"t":8.5,"s":"hyst","m":0.2,"lo":0,"hi":0.22},{"t":9,"s":"hyst","m":0.18,"lo":0,"hi":0.2},{"t":9.5,"s":"hyst","m":0.2,"lo":0,"hi":0.22},{"t":10,"s":"hyst","m":0.18,"lo":0,"hi":0.2},{"t":10.5,"s":"hyst","m":0.18,"lo":0,"hi":0.2},{"t":11,"s":"hyst","m":0.18,"lo":0,"hi":0.2},{"t":11.5,"s":"hyst","m":0.15,"lo":0,"hi":0.18},{"t":12,"s":"hyst","m":0.15,"lo":0,"hi":0.18},{"t":12.5,"s":"hyst","m":0.15,"lo":0,"hi":0.18},{"t":13,"s":"hyst","m":0.15,"lo":0,"hi":0.18},{"t":13.5,"s":"hyst","m":0.15,"lo":0,"hi":0.18},{"t":14,"s":"hyst","m":0.18,"lo":0,"hi":0.2},{"t":14.5,"s":"hyst","m":0.2,"lo":0,"hi":0.22},{"t":15,"s":"hyst","m":0.22,"lo":0,"hi":0.25},{"t":15.5,"s":"hyst","m":0.2,"lo":0,"hi":0.22},{"t":16,"s":"hyst","m":0.35,"lo":0,"hi":0.38},{"t":16.5,"s":"hyst","m":0.38,"lo":0,"hi":0.4},{"t":17,"s":"hyst","m":0.38,"lo":0,"hi":0.4},{"t":17.5,"s":"hyst","m":0.2,"lo":0,"hi":0.22},{"t":18,"s":"hyst","m":0.3,"lo":0,"hi":0.32},{"t":18.5,"s":"hyst","m":0.22,"lo":0,"hi":0.25},{"t":19,"s":"hyst","m":0.22,"lo":0,"hi":0.25},{"t":19.5,"s":"hyst","m":0.2,"lo":0,"hi":0.22},{"t":20,"s":"hyst","m":0.2,"lo":0,"hi":0.22},{"t":20.5,"s":"hyst","m":0.2,"lo":0,"hi":0.22},{"t":21,"s":"hyst","m":0.22,"lo":0,"hi":0.25},{"t":21.5,"s":"hyst","m":0.3,"lo":0,"hi":0.32},{"t":22,"s":"hyst","m":0.2,"lo":0,"hi":0.22},{"t":22.5,"s":"hyst","m":0.2,"lo":0,"hi":0.22},{"t":23,"s":"hyst","m":0.1,"lo":0,"hi":0.12},
      {"t":0,"s":"var","m":0.05,"lo":0,"hi":0.12},{"t":0.5,"s":"var","m":0.04,"lo":0,"hi":0.1},{"t":1,"s":"var","m":0.03,"lo":0,"hi":0.06},{"t":1.5,"s":"var","m":0.03,"lo":0,"hi":0.06},{"t":2,"s":"var","m":0.03,"lo":0,"hi":0.06},{"t":2.5,"s":"var","m":0.03,"lo":0,"hi":0.06},{"t":3,"s":"var","m":0.05,"lo":0,"hi":0.08},{"t":3.5,"s":"var","m":0.08,"lo":0.02,"hi":0.12},{"t":4,"s":"var","m":0.15,"lo":0.08,"hi":0.2},{"t":4.5,"s":"var","m":0.18,"lo":0.1,"hi":0.25},{"t":5,"s":"var","m":0.25,"lo":0.15,"hi":0.35},{"t":5.5,"s":"var","m":0.4,"lo":0.28,"hi":0.45},{"t":6,"s":"var","m":0.3,"lo":0.22,"hi":0.38},{"t":6.5,"s":"var","m":0.28,"lo":0.2,"hi":0.35},{"t":7,"s":"var","m":0.25,"lo":0.18,"hi":0.32},{"t":7.5,"s":"var","m":0.2,"lo":0.12,"hi":0.25},{"t":8,"s":"var","m":0.15,"lo":0.08,"hi":0.2},{"t":8.5,"s":"var","m":0.15,"lo":0.08,"hi":0.2},{"t":9,"s":"var","m":0.15,"lo":0.08,"hi":0.2},{"t":9.5,"s":"var","m":0.18,"lo":0.1,"hi":0.22},{"t":10,"s":"var","m":0.15,"lo":0.08,"hi":0.2},{"t":10.5,"s":"var","m":0.13,"lo":0.06,"hi":0.18},{"t":11,"s":"var","m":0.15,"lo":0.08,"hi":0.2},{"t":11.5,"s":"var","m":0.12,"lo":0.05,"hi":0.17},{"t":12,"s":"var","m":0.1,"lo":0.04,"hi":0.15},{"t":12.5,"s":"var","m":0.1,"lo":0.04,"hi":0.15},{"t":13,"s":"var","m":0.1,"lo":0.04,"hi":0.15},{"t":13.5,"s":"var","m":0.12,"lo":0.05,"hi":0.17},{"t":14,"s":"var","m":0.1,"lo":0.04,"hi":0.15},{"t":14.5,"s":"var","m":0.12,"lo":0.05,"hi":0.17},{"t":15,"s":"var","m":0.15,"lo":0.08,"hi":0.2},{"t":15.5,"s":"var","m":0.12,"lo":0.05,"hi":0.17},{"t":16,"s":"var","m":0.15,"lo":0.08,"hi":0.2},{"t":16.5,"s":"var","m":0.18,"lo":0.1,"hi":0.24},{"t":17,"s":"var","m":0.2,"lo":0.12,"hi":0.26},{"t":17.5,"s":"var","m":0.18,"lo":0.1,"hi":0.24},{"t":18,"s":"var","m":0.22,"lo":0.14,"hi":0.28},{"t":18.5,"s":"var","m":0.2,"lo":0.12,"hi":0.26},{"t":19,"s":"var","m":0.18,"lo":0.1,"hi":0.24},{"t":19.5,"s":"var","m":0.15,"lo":0.08,"hi":0.2},{"t":20,"s":"var","m":0.12,"lo":0.06,"hi":0.18},{"t":20.5,"s":"var","m":0.12,"lo":0.06,"hi":0.18},{"t":21,"s":"var","m":0.18,"lo":0.1,"hi":0.24},{"t":21.5,"s":"var","m":0.22,"lo":0.14,"hi":0.3},{"t":22,"s":"var","m":0.15,"lo":0.08,"hi":0.2},{"t":22.5,"s":"var","m":0.12,"lo":0.06,"hi":0.18},{"t":23,"s":"var","m":0.05,"lo":0,"hi":0.1},
      {"t":0,"s":"app","m":1.1,"lo":0.8,"hi":1.08},{"t":0.5,"s":"app","m":1.0,"lo":0.79,"hi":1.02},{"t":1,"s":"app","m":0.92,"lo":0.78,"hi":0.95},{"t":1.5,"s":"app","m":1.0,"lo":0.77,"hi":1.0},{"t":2,"s":"app","m":0.97,"lo":0.75,"hi":0.98},{"t":2.5,"s":"app","m":0.95,"lo":0.76,"hi":0.96},{"t":3,"s":"app","m":0.93,"lo":0.77,"hi":0.95},{"t":3.5,"s":"app","m":0.95,"lo":0.78,"hi":0.97},{"t":4,"s":"app","m":1.03,"lo":0.8,"hi":1.1},{"t":4.5,"s":"app","m":1.02,"lo":0.82,"hi":1.05},{"t":5,"s":"app","m":1.2,"lo":0.83,"hi":1.15},{"t":5.5,"s":"app","m":1.08,"lo":0.84,"hi":1.12},{"t":6,"s":"app","m":1.03,"lo":0.83,"hi":1.08},{"t":6.5,"s":"app","m":1.1,"lo":0.83,"hi":1.12},{"t":7,"s":"app","m":1.15,"lo":0.82,"hi":1.18},{"t":7.5,"s":"app","m":1.2,"lo":0.81,"hi":1.2},{"t":8,"s":"app","m":1.02,"lo":0.8,"hi":1.05},{"t":8.5,"s":"app","m":1.15,"lo":0.82,"hi":1.15},{"t":9,"s":"app","m":1.4,"lo":0.85,"hi":1.35},{"t":9.5,"s":"app","m":1.55,"lo":0.87,"hi":2.1},{"t":10,"s":"app","m":1.85,"lo":0.9,"hi":1.95},{"t":10.5,"s":"app","m":1.85,"lo":0.95,"hi":2.0},{"t":11,"s":"app","m":2.1,"lo":1.05,"hi":2.25},{"t":11.5,"s":"app","m":2.08,"lo":1.1,"hi":2.35},{"t":12,"s":"app","m":2.08,"lo":1.05,"hi":2.15},{"t":12.5,"s":"app","m":1.65,"lo":0.95,"hi":2.05},{"t":13,"s":"app","m":1.7,"lo":0.9,"hi":1.7},{"t":13.5,"s":"app","m":1.95,"lo":0.9,"hi":1.65},{"t":14,"s":"app","m":1.65,"lo":0.92,"hi":1.85},{"t":14.5,"s":"app","m":1.85,"lo":0.95,"hi":1.7},{"t":15,"s":"app","m":1.8,"lo":0.98,"hi":2.0},{"t":15.5,"s":"app","m":2.15,"lo":1.02,"hi":2.1},{"t":16,"s":"app","m":2.3,"lo":1.05,"hi":2.7},{"t":16.5,"s":"app","m":2.5,"lo":1.15,"hi":2.5},{"t":17,"s":"app","m":2.6,"lo":1.25,"hi":2.85},{"t":17.5,"s":"app","m":2.85,"lo":1.4,"hi":2.9},{"t":18,"s":"app","m":3.1,"lo":1.75,"hi":3.5},{"t":18.5,"s":"app","m":3.3,"lo":1.82,"hi":3.75},{"t":19,"s":"app","m":3.2,"lo":1.85,"hi":3.25},{"t":19.5,"s":"app","m":3.28,"lo":1.8,"hi":3.65},{"t":20,"s":"app","m":3.0,"lo":1.56,"hi":3.1},{"t":20.5,"s":"app","m":2.75,"lo":1.48,"hi":2.75},{"t":21,"s":"app","m":2.6,"lo":1.35,"hi":2.6},{"t":21.5,"s":"app","m":2.25,"lo":1.25,"hi":2.3},{"t":22,"s":"app","m":2.0,"lo":1.13,"hi":1.85},{"t":22.5,"s":"app","m":1.8,"lo":1.03,"hi":1.7},{"t":23,"s":"app","m":1.3,"lo":0.93,"hi":1.25}
    ]
  },
  "vconcat": [
    {
      "hconcat": [
        {
          "width": 427, "height": 271,
          "data": {"name": "workday"},
          "layer": [
            {
              "mark": {"type": "area", "opacity": 1, "strokeWidth": 0.6},
              "encoding": {
                "x": {"field": "t", "type": "quantitative", "scale": {"domain": [0, 23], "nice": false, "zero": false}, "axis": {"title": "Time of the day", "format": "d", "labelOverlap": false, "tickCount": 23, "values": [0,1,2,3,4,5,6,7,8,9,10,11,12,13,14,15,16,17,18,19,20,21,22,23], "labelExpr": "datum.value % 6 == 0 ? datum.label : ''", "tickSize": {"condition": {"test": "datum.value % 6 == 0", "value": 5}, "value": 3}}},
                "y": {"field": "v", "type": "quantitative", "stack": "zero", "scale": {"domain": [0, 4.2], "nice": false}, "axis": {"title": "total load [kW]", "format": "d", "labelOverlap": false, "tickCount": 5, "values": [0, 1, 2, 3, 4]}},
                "color": {"field": "s", "type": "nominal", "scale": {"domain": ["b2","b1","9","8","7","6","5","4","3","2","1"], "range": ["#1b9e7a","#0a5b7f","#a6bfcc","#f58320","#1f3e50","#d6c9b1","#02889b","#3dc1cc","#b2d235","#fbb616","#b80052"]}, "legend": {"title": null, "offset": 18, "symbolType": "M-1,0H3.4", "labelExpr": "datum.value == 'b2' ? 'bev_2_fulltime' : datum.value == 'b1' ? 'bev_1_fulltime' : datum.value == '9' ? '9_fulltime_1' : datum.value == '8' ? '8_fulltime_1' : datum.value == '7' ? '7_fulltime_1' : datum.value == '6' ? '6_parttime_1' : datum.value == '5' ? '5_parttime_1' : datum.value == '4' ? '4_parttime_1' : datum.value + '_fulltime_2'"}},
                "stroke": {"field": "s", "type": "nominal", "scale": {"domain": ["b2","b1","9","8","7","6","5","4","3","2","1"], "range": ["#1b9e7a","#0a5b7f","#a6bfcc","#f58320","#1f3e50","#d6c9b1","#02889b","#3dc1cc","#b2d235","#fbb616","#b80052"]}, "legend": {"title": null, "offset": 18, "symbolType": "M-1,0H3.4", "labelExpr": "datum.value == 'b2' ? 'bev_2_fulltime' : datum.value == 'b1' ? 'bev_1_fulltime' : datum.value == '9' ? '9_fulltime_1' : datum.value == '8' ? '8_fulltime_1' : datum.value == '7' ? '7_fulltime_1' : datum.value == '6' ? '6_parttime_1' : datum.value == '5' ? '5_parttime_1' : datum.value == '4' ? '4_parttime_1' : datum.value + '_fulltime_2'"}},
                "order": {"field": "s", "sort": "ascending"}
              }
            },
            {
              "data": {"values": [{"label": "Workday"}]},
              "mark": {"type": "text", "align": "left", "baseline": "alphabetic", "font": "Liberation Serif", "fontSize": 23, "fontWeight": "bold", "color": "#111"},
              "encoding": {"x": {"datum": 1.45, "type": "quantitative"}, "y": {"datum": 3.64, "type": "quantitative"}, "text": {"field": "label"}}
            }
          ]
        },
        {
          "width": 427, "height": 271,
          "data": {"name": "sunday"},
          "layer": [
            {
              "mark": {"type": "area", "opacity": 1, "strokeWidth": 0.6},
              "encoding": {
                "x": {"field": "t", "type": "quantitative", "scale": {"domain": [0, 23], "nice": false, "zero": false}, "axis": {"title": "Time of the day", "format": "d", "labelOverlap": false, "tickCount": 23, "values": [0,1,2,3,4,5,6,7,8,9,10,11,12,13,14,15,16,17,18,19,20,21,22,23], "labelExpr": "datum.value % 6 == 0 ? datum.label : ''", "tickSize": {"condition": {"test": "datum.value % 6 == 0", "value": 5}, "value": 3}}},
                "y": {"field": "v", "type": "quantitative", "stack": "zero", "scale": {"domain": [0, 4.2], "nice": false}, "axis": {"title": "total load [kW]", "format": "d", "labelOverlap": false, "tickCount": 5, "values": [0, 1, 2, 3, 4]}},
                "color": {"field": "s", "type": "nominal", "scale": {"domain": ["b2","b1","9","8","7","6","5","4","3","2","1"], "range": ["#1b9e7a","#0a5b7f","#a6bfcc","#f58320","#1f3e50","#d6c9b1","#02889b","#3dc1cc","#b2d235","#fbb616","#b80052"]}, "legend": {"title": null, "offset": 18, "symbolType": "M-1,0H3.4", "labelExpr": "datum.value == 'b2' ? 'bev_2_fulltime' : datum.value == 'b1' ? 'bev_1_fulltime' : datum.value == '9' ? '9_fulltime_1' : datum.value == '8' ? '8_fulltime_1' : datum.value == '7' ? '7_fulltime_1' : datum.value == '6' ? '6_parttime_1' : datum.value == '5' ? '5_parttime_1' : datum.value == '4' ? '4_parttime_1' : datum.value + '_fulltime_2'"}},
                "stroke": {"field": "s", "type": "nominal", "scale": {"domain": ["b2","b1","9","8","7","6","5","4","3","2","1"], "range": ["#1b9e7a","#0a5b7f","#a6bfcc","#f58320","#1f3e50","#d6c9b1","#02889b","#3dc1cc","#b2d235","#fbb616","#b80052"]}, "legend": {"title": null, "offset": 18, "symbolType": "M-1,0H3.4", "labelExpr": "datum.value == 'b2' ? 'bev_2_fulltime' : datum.value == 'b1' ? 'bev_1_fulltime' : datum.value == '9' ? '9_fulltime_1' : datum.value == '8' ? '8_fulltime_1' : datum.value == '7' ? '7_fulltime_1' : datum.value == '6' ? '6_parttime_1' : datum.value == '5' ? '5_parttime_1' : datum.value == '4' ? '4_parttime_1' : datum.value + '_fulltime_2'"}},
                "order": {"field": "s", "sort": "ascending"}
              }
            },
            {
              "data": {"values": [{"label": "Sunday"}]},
              "mark": {"type": "text", "align": "left", "baseline": "alphabetic", "font": "Liberation Serif", "fontSize": 23, "fontWeight": "bold", "color": "#111"},
              "encoding": {"x": {"datum": 1.45, "type": "quantitative"}, "y": {"datum": 3.64, "type": "quantitative"}, "text": {"field": "label"}}
            }
          ]
        }
      ],
      "spacing": 23
    },
    {
      "hconcat": [
        {
          "width": 425, "height": 268,
          "data": {"name": "winter"},
          "layer": [
            {
              "mark": {"type": "area", "fillOpacity": 0.2, "strokeWidth": 0},
              "encoding": {
                "x": {"field": "t", "type": "quantitative", "scale": {"domain": [0, 23], "nice": false, "zero": false}, "axis": {"title": "Time of the day", "format": "d", "labelOverlap": false, "tickCount": 23, "values": [0,1,2,3,4,5,6,7,8,9,10,11,12,13,14,15,16,17,18,19,20,21,22,23], "labelExpr": "datum.value % 6 == 0 ? datum.label : ''", "tickSize": {"condition": {"test": "datum.value % 6 == 0", "value": 5}, "value": 3}}},
                "y": {"field": "lo", "type": "quantitative", "scale": {"domain": [0, 7.95], "nice": false}, "axis": {"title": "total load [kW]", "format": "d", "labelOverlap": false, "tickCount": 8, "values": [0, 1, 2, 3, 4, 5, 6, 7]}},
                "y2": {"field": "hi"},
                "fill": {"field": "s", "type": "nominal", "scale": {"domain": ["hyst", "var", "app"], "range": ["#a3b9c8", "#0b5a7c", "#1b9e7a"]}, "legend": null}
              }
            },
            {
              "mark": {"type": "line", "strokeOpacity": 0.3, "strokeWidth": 1.3},
              "encoding": {
                "x": {"field": "t", "type": "quantitative", "axis": {"title": "Time of the day", "format": "d", "labelOverlap": false, "tickCount": 23, "values": [0,1,2,3,4,5,6,7,8,9,10,11,12,13,14,15,16,17,18,19,20,21,22,23], "labelExpr": "datum.value % 6 == 0 ? datum.label : ''", "tickSize": {"condition": {"test": "datum.value % 6 == 0", "value": 5}, "value": 3}}},
                "y": {"field": "lo", "type": "quantitative", "axis": {"title": "total load [kW]", "format": "d", "labelOverlap": false, "tickCount": 8, "values": [0, 1, 2, 3, 4, 5, 6, 7]}},
                "stroke": {"field": "s", "type": "nominal", "scale": {"domain": ["hyst", "var", "app"], "range": ["#a3b9c8", "#0b5a7c", "#1b9e7a"]}, "legend": null}
              }
            },
            {
              "mark": {"type": "line", "strokeOpacity": 0.3, "strokeWidth": 1.3},
              "encoding": {
                "x": {"field": "t", "type": "quantitative", "axis": {"title": "Time of the day", "format": "d", "labelOverlap": false, "tickCount": 23, "values": [0,1,2,3,4,5,6,7,8,9,10,11,12,13,14,15,16,17,18,19,20,21,22,23], "labelExpr": "datum.value % 6 == 0 ? datum.label : ''", "tickSize": {"condition": {"test": "datum.value % 6 == 0", "value": 5}, "value": 3}}},
                "y": {"field": "hi", "type": "quantitative", "axis": {"title": "total load [kW]", "format": "d", "labelOverlap": false, "tickCount": 8, "values": [0, 1, 2, 3, 4, 5, 6, 7]}},
                "stroke": {"field": "s", "type": "nominal", "scale": {"domain": ["hyst", "var", "app"], "range": ["#a3b9c8", "#0b5a7c", "#1b9e7a"]}, "legend": null}
              }
            },
            {
              "mark": {"type": "line", "strokeWidth": 2},
              "encoding": {
                "x": {"field": "t", "type": "quantitative", "axis": {"title": "Time of the day", "format": "d", "labelOverlap": false, "tickCount": 23, "values": [0,1,2,3,4,5,6,7,8,9,10,11,12,13,14,15,16,17,18,19,20,21,22,23], "labelExpr": "datum.value % 6 == 0 ? datum.label : ''", "tickSize": {"condition": {"test": "datum.value % 6 == 0", "value": 5}, "value": 3}}},
                "y": {"field": "m", "type": "quantitative", "axis": {"title": "total load [kW]", "format": "d", "labelOverlap": false, "tickCount": 8, "values": [0, 1, 2, 3, 4, 5, 6, 7]}},
                "color": {"field": "s", "type": "nominal", "scale": {"domain": ["app", "var", "hyst"], "range": ["#1b9e7a", "#0b5a7c", "#a3b9c8"]}, "legend": {"title": null, "offset": 22, "labelExpr": "datum.value == 'app' ? ['Appartment', 'and BEV load'] : datum.value == 'var' ? 'HP var' : 'HP hyst'"}}
              }
            },
            {
              "data": {"values": [{"label": "Winter"}]},
              "mark": {"type": "text", "align": "left", "baseline": "alphabetic", "font": "Liberation Serif", "fontSize": 23, "fontWeight": "bold", "color": "#111"},
              "encoding": {"x": {"datum": 1.5, "type": "quantitative"}, "y": {"datum": 6.85, "type": "quantitative"}, "text": {"field": "label"}}
            }
          ]
        },
        {
          "width": 437, "height": 271,
          "data": {"name": "summer"},
          "layer": [
            {
              "mark": {"type": "area", "fillOpacity": 0.2, "strokeWidth": 0},
              "encoding": {
                "x": {"field": "t", "type": "quantitative", "scale": {"domain": [0, 23], "nice": false, "zero": false}, "axis": {"title": "Time of the day", "format": "d", "labelOverlap": false, "tickCount": 23, "values": [0,1,2,3,4,5,6,7,8,9,10,11,12,13,14,15,16,17,18,19,20,21,22,23], "labelExpr": "datum.value % 6 == 0 ? datum.label : ''", "tickSize": {"condition": {"test": "datum.value % 6 == 0", "value": 5}, "value": 3}}},
                "y": {"field": "lo", "type": "quantitative", "scale": {"domain": [0, 7.8], "nice": false}, "axis": {"title": "total load [kW]", "format": "d", "labelOverlap": false, "tickCount": 8, "values": [0, 1, 2, 3, 4, 5, 6, 7]}},
                "y2": {"field": "hi"},
                "fill": {"field": "s", "type": "nominal", "scale": {"domain": ["hyst", "var", "app"], "range": ["#a3b9c8", "#0b5a7c", "#1b9e7a"]}, "legend": null}
              }
            },
            {
              "mark": {"type": "line", "strokeOpacity": 0.3, "strokeWidth": 1.3},
              "encoding": {
                "x": {"field": "t", "type": "quantitative", "axis": {"title": "Time of the day", "format": "d", "labelOverlap": false, "tickCount": 23, "values": [0,1,2,3,4,5,6,7,8,9,10,11,12,13,14,15,16,17,18,19,20,21,22,23], "labelExpr": "datum.value % 6 == 0 ? datum.label : ''", "tickSize": {"condition": {"test": "datum.value % 6 == 0", "value": 5}, "value": 3}}},
                "y": {"field": "lo", "type": "quantitative", "axis": {"title": "total load [kW]", "format": "d", "labelOverlap": false, "tickCount": 8, "values": [0, 1, 2, 3, 4, 5, 6, 7]}},
                "stroke": {"field": "s", "type": "nominal", "scale": {"domain": ["hyst", "var", "app"], "range": ["#a3b9c8", "#0b5a7c", "#1b9e7a"]}, "legend": null}
              }
            },
            {
              "mark": {"type": "line", "strokeOpacity": 0.3, "strokeWidth": 1.3},
              "encoding": {
                "x": {"field": "t", "type": "quantitative", "axis": {"title": "Time of the day", "format": "d", "labelOverlap": false, "tickCount": 23, "values": [0,1,2,3,4,5,6,7,8,9,10,11,12,13,14,15,16,17,18,19,20,21,22,23], "labelExpr": "datum.value % 6 == 0 ? datum.label : ''", "tickSize": {"condition": {"test": "datum.value % 6 == 0", "value": 5}, "value": 3}}},
                "y": {"field": "hi", "type": "quantitative", "axis": {"title": "total load [kW]", "format": "d", "labelOverlap": false, "tickCount": 8, "values": [0, 1, 2, 3, 4, 5, 6, 7]}},
                "stroke": {"field": "s", "type": "nominal", "scale": {"domain": ["hyst", "var", "app"], "range": ["#a3b9c8", "#0b5a7c", "#1b9e7a"]}, "legend": null}
              }
            },
            {
              "mark": {"type": "line", "strokeWidth": 2},
              "encoding": {
                "x": {"field": "t", "type": "quantitative", "axis": {"title": "Time of the day", "format": "d", "labelOverlap": false, "tickCount": 23, "values": [0,1,2,3,4,5,6,7,8,9,10,11,12,13,14,15,16,17,18,19,20,21,22,23], "labelExpr": "datum.value % 6 == 0 ? datum.label : ''", "tickSize": {"condition": {"test": "datum.value % 6 == 0", "value": 5}, "value": 3}}},
                "y": {"field": "m", "type": "quantitative", "axis": {"title": "total load [kW]", "format": "d", "labelOverlap": false, "tickCount": 8, "values": [0, 1, 2, 3, 4, 5, 6, 7]}},
                "color": {"field": "s", "type": "nominal", "scale": {"domain": ["app", "var", "hyst"], "range": ["#1b9e7a", "#0b5a7c", "#a3b9c8"]}, "legend": {"title": null, "offset": 22, "labelExpr": "datum.value == 'app' ? ['Appartment', 'and BEV load'] : datum.value == 'var' ? 'HP var' : 'HP hyst'"}}
              }
            },
            {
              "data": {"values": [{"label": "Summer"}]},
              "mark": {"type": "text", "align": "left", "baseline": "alphabetic", "font": "Liberation Serif", "fontSize": 23, "fontWeight": "bold", "color": "#111"},
              "encoding": {"x": {"datum": 1.37, "type": "quantitative"}, "y": {"datum": 6.75, "type": "quantitative"}, "text": {"field": "label"}}
            }
          ]
        }
      ],
      "spacing": 21
    }
  ],
  "spacing": 26,
  "resolve": {"scale": {"color": "independent", "stroke": "independent", "fill": "independent"}}
}
